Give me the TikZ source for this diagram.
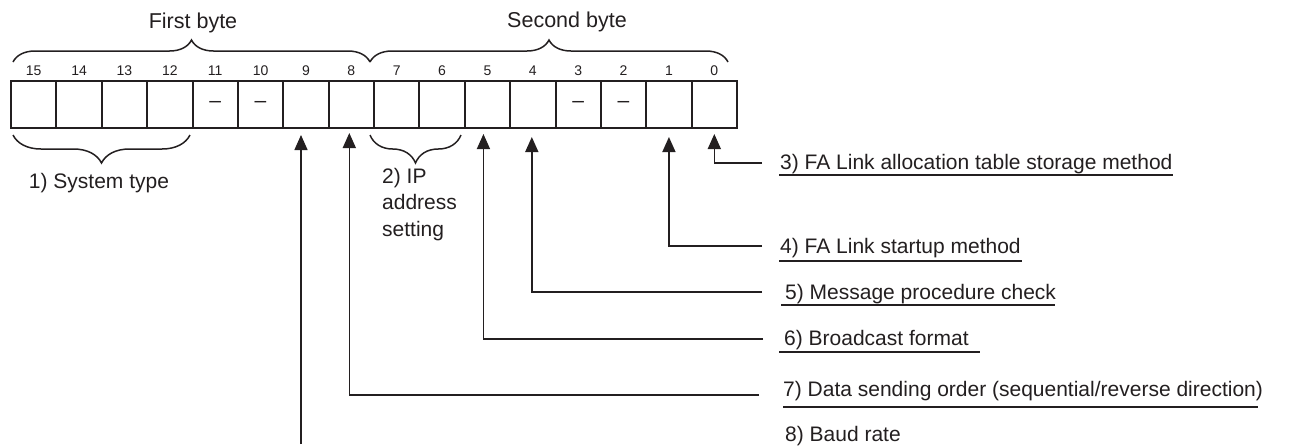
\documentclass[tikz,border=0pt]{standalone}
\usepackage{fontspec}
\setmainfont{Liberation Sans}
\usetikzlibrary{decorations.pathreplacing,arrows.meta,calc}
\definecolor{ink}{RGB}{35,31,32}
\begin{document}
\begin{tikzpicture}[x=1pt,y=1pt, ink,
  cell/.style={draw, line width=2pt, minimum width=45.375pt, minimum height=47pt, inner sep=0pt, outer sep=0pt, font=\fontsize{21}{25}\selectfont},
  bitnum/.style={font=\fontsize{14}{16}\selectfont, inner sep=0pt},
  txt/.style={font=\fontsize{21}{26.5}\selectfont, inner sep=0pt},
  lbl/.style={txt, anchor=base west},
  ul/.style={line width=2pt},
  arr/.style={line width=1.5pt, -{Triangle[width=13pt,length=15pt]}},
  brc/.style={decorate, line width=1.5pt, decoration={brace, amplitude=#1}},
  mbrc/.style={decorate, line width=1.5pt, decoration={brace, mirror, amplitude=#1}},
]
\useasboundingbox (0,0) rectangle (1303,-445);

% cells and bit numbers
\foreach \b/\t [count=\i from 0] in {15/{},14/{},13/{},12/{},11/{--},10/{--},9/{},8/{},7/{},6/{},5/{},4/{},3/{--},2/{--},1/{},0/{}}{
  \node[cell] (c\b) at ({11+45.375*(\i+0.5)}, -104.5) {\raisebox{-2.5pt}{\t}};
  \node[bitnum] (n\b) at ({11+45.375*(\i+0.5)}, -71) {\b};
}

% top braces
\draw[brc=22pt] (13,-62) -- (370,-62);
\draw[brc=22pt] (370,-62) -- (728,-62);
\node[txt, font=\fontsize{21.5}{26.5}\selectfont] (fb) at (193,-23) {First byte};
\node[txt, font=\fontsize{21.5}{26.5}\selectfont] (sb) at (567,-22) {Second byte};

% bottom braces
\draw[mbrc=28pt] (13,-135) -- (190,-135);
\draw[mbrc=28pt] (370,-135) -- (461,-135);
\node[txt] (st) at (99,-183) {1) System type};
\node[txt, align=left, anchor=north west] (ip) at (382,-168) {2) IP\\address\\setting};

% labels
\node[lbl] (l3) at (780,-169) {3) FA Link allocation table storage method};
\node[lbl] (l4) at (780,-253) {4) FA Link startup method};
\node[lbl] (l5) at (785,-299) {5) Message procedure check};
\node[lbl] (l6) at (784,-345) {6) Broadcast format};
\node[lbl] (l7) at (783,-396) {7) Data sending order (sequential/reverse direction)};
\node[lbl] (l8) at (785,-441) {8) Baud rate};

% underlines
\draw[ul] ([shift={(-1,-6)}]l3.base west) -- ++(394,0);
\draw[ul] ([shift={(-1,-8)}]l4.base west) -- ++(243,0);
\draw[ul] ([shift={(-4,-6)}]l5.base west) -- ++(274,0);
\draw[ul] ([shift={(-5,-7)}]l6.base west) -- ++(201,0);
\draw[ul] ([shift={(0,-11)}]l7.base west) -- ++(475,0);

% connectors
\coordinate (e0) at (762,-163);
\coordinate (e1) at (762,-246);
\coordinate (e4) at (762,-292);
\coordinate (e5) at (763,-339);
\coordinate (e8) at (759,-395);
\coordinate (e9) at (301,-444);
\draw[arr, shorten >=6pt] (e0) -| (c0.south);
\draw[arr, shorten >=9pt] (e1) -| (c1.south);
\draw[arr, shorten >=9pt] (e4) -| ([xshift=-1pt]c4.south);
\draw[arr, shorten >=6pt] (e5) -| ([xshift=-4pt]c5.south);
\draw[arr, shorten >=5pt] (e8) -| ([xshift=-2pt]c8.south);
\draw[arr, shorten >=7pt] (e9) -- (e9 |- c9.south);
\end{tikzpicture}
\end{document}
